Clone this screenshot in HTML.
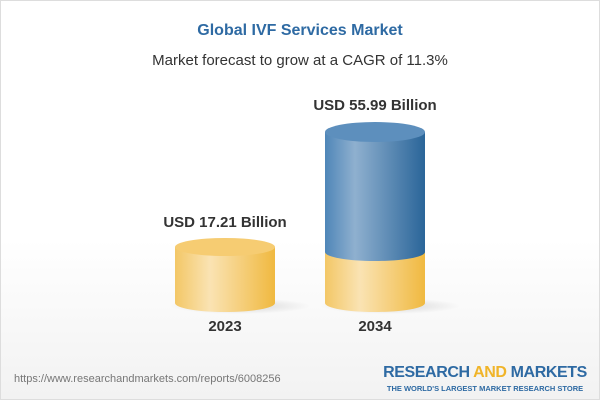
<!DOCTYPE html>
<html><head><style>
body{margin:0;width:600px;height:400px;overflow:hidden;font-family:"Liberation Sans",Arial,sans-serif;}
.wrap{position:absolute;left:0;top:0;width:598px;height:398px;border:1px solid #ddd;background:linear-gradient(#fff 0%,#fff 60%,#f2f2f2 100%);}
.t{position:absolute;width:600px;text-align:center;}
</style></head><body><div class="wrap"></div>
<svg width="600" height="400" style="position:absolute;left:0;top:0">
<defs>
<linearGradient id="y" x1="0" x2="1"><stop offset="0" stop-color="#f3c766"/><stop offset="0.35" stop-color="#fae3b3"/><stop offset="1" stop-color="#f0b940"/></linearGradient>
<linearGradient id="b" x1="0" x2="1"><stop offset="0" stop-color="#4f86b8"/><stop offset="0.3" stop-color="#8fb0cf"/><stop offset="1" stop-color="#2a6599"/></linearGradient>
<radialGradient id="sh"><stop offset="0" stop-color="#000" stop-opacity="0.15"/><stop offset="1" stop-color="#000" stop-opacity="0"/></radialGradient>
</defs>
<ellipse cx="240" cy="306" rx="70" ry="8" fill="url(#sh)"/>
<ellipse cx="390" cy="306" rx="70" ry="8" fill="url(#sh)"/>
<path d="M175 247 V303 A50 9 0 0 0 275 303 V247Z" fill="url(#y)"/>
<ellipse cx="225" cy="247" rx="50" ry="9" fill="#f6cc72"/>
<path d="M325 252 V303 A50 9 0 0 0 425 303 V252Z" fill="url(#y)"/>
<path d="M325 132 V252 A50 9 0 0 0 425 252 V132Z" fill="url(#b)"/>
<ellipse cx="375" cy="132" rx="50" ry="10" fill="#5d8fbd"/>
</svg>
<div class="t" style="top:22px;font-size:16px;font-weight:bold;color:#2e6aa3">Global IVF Services Market</div>
<div class="t" style="top:52px;font-size:15px;color:#333">Market forecast to grow at a CAGR of 11.3%</div>
<div style="position:absolute;left:125px;width:200px;text-align:center;top:214px;font-size:15px;font-weight:bold;color:#333">USD 17.21 Billion</div>
<div style="position:absolute;left:275px;width:200px;text-align:center;top:97px;font-size:15px;font-weight:bold;color:#333">USD 55.99 Billion</div>
<div style="position:absolute;left:175px;width:100px;text-align:center;top:318px;font-size:15px;font-weight:bold;color:#333">2023</div>
<div style="position:absolute;left:325px;width:100px;text-align:center;top:318px;font-size:15px;font-weight:bold;color:#333">2034</div>
<div style="position:absolute;left:14px;top:373px;font-size:11px;color:#777">https://www.researchandmarkets.com/reports/6008256</div>
<div style="position:absolute;left:380px;top:364px;width:210px;text-align:center;font-size:16px;font-weight:bold;color:#2e6aa3;letter-spacing:-0.4px">RESEARCH <span style="color:#f0b429">AND</span> MARKETS</div>
<div style="position:absolute;left:380px;top:384px;width:210px;text-align:center;font-size:7.5px;font-weight:bold;color:#2e6aa3">THE WORLD'S LARGEST MARKET RESEARCH STORE</div>
</body></html>
